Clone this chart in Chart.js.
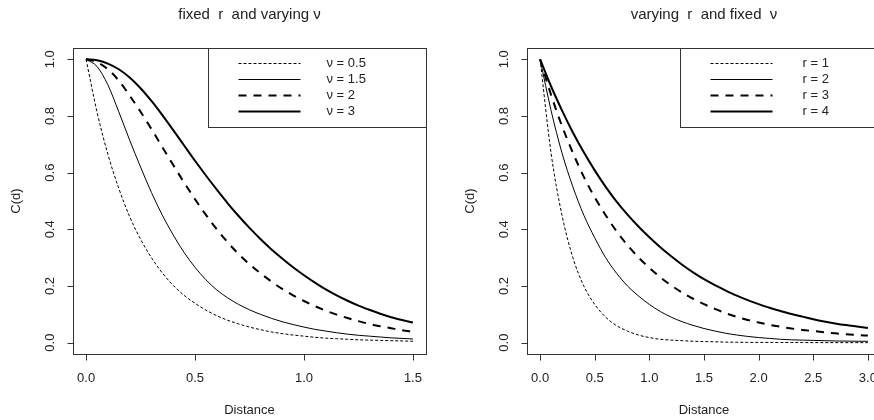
<!DOCTYPE html>
<html>
<head>
<meta charset="utf-8">
<script src="https://cdn.jsdelivr.net/npm/chart.js@4"></script>
<style>
  html, body { margin: 0; padding: 0; background: #fff; width: 874px; height: 420px; overflow: hidden; }
  #wrapL { position: absolute; left: 0; top: 0; width: 437px; height: 420px; }
  #wrapR { position: absolute; left: 437px; top: 0; width: 437px; height: 420px; overflow: hidden; }
</style>
</head>
<body>
<div id="wrapL"><canvas id="left" width="437" height="420"></canvas></div>
<div id="wrapR"><canvas id="right" width="450" height="420"></canvas></div>
<script>
// left panel: fixed r, varying nu
const distLeft = [0, 0.05, 0.1, 0.15, 0.2, 0.25, 0.3, 0.35, 0.4, 0.45, 0.5, 0.55, 0.6, 0.65, 0.7, 0.75,
  0.8, 0.85, 0.9, 0.95, 1.0, 1.05, 1.1, 1.15, 1.2, 1.25, 1.3, 1.35, 1.4, 1.45, 1.5];
const nu05 = [1.000, 0.815, 0.665, 0.545, 0.445, 0.365, 0.300, 0.246, 0.202, 0.167, 0.139, 0.115, 0.095, 0.079, 0.066, 0.055,
  0.046, 0.038, 0.032, 0.027, 0.023, 0.019, 0.016, 0.014, 0.012, 0.010, 0.009, 0.008, 0.007, 0.006, 0.005];
const nu15 = [1.000, 0.975, 0.910, 0.815, 0.715, 0.620, 0.530, 0.450, 0.380, 0.318, 0.266, 0.222, 0.186, 0.158, 0.135, 0.116,
  0.100, 0.086, 0.074, 0.064, 0.055, 0.047, 0.041, 0.035, 0.030, 0.026, 0.023, 0.020, 0.017, 0.015, 0.013];
const nu2 = [1.000, 0.990, 0.965, 0.925, 0.872, 0.815, 0.754, 0.690, 0.627, 0.565, 0.506, 0.451, 0.400, 0.354, 0.313, 0.277,
  0.245, 0.216, 0.190, 0.167, 0.147, 0.129, 0.113, 0.099, 0.087, 0.076, 0.066, 0.058, 0.051, 0.044, 0.038];
const nu3 = [1.000, 0.997, 0.985, 0.965, 0.936, 0.898, 0.853, 0.803, 0.750, 0.696, 0.642, 0.590, 0.540, 0.492, 0.447, 0.405,
  0.366, 0.330, 0.297, 0.266, 0.238, 0.212, 0.188, 0.167, 0.148, 0.131, 0.116, 0.102, 0.090, 0.080, 0.071];

// right panel: varying r, fixed nu
const distRight = [0, 0.1, 0.2, 0.3, 0.4, 0.5, 0.6, 0.7, 0.8, 0.9, 1.0, 1.1, 1.2, 1.3, 1.4, 1.5,
  1.6, 1.7, 1.8, 1.9, 2.0, 2.1, 2.2, 2.3, 2.4, 2.5, 2.6, 2.7, 2.8, 2.9, 3.0];
const r1 = [1.000, 0.670, 0.450, 0.300, 0.200, 0.135, 0.090, 0.060, 0.041, 0.027, 0.018, 0.012, 0.009, 0.007, 0.005, 0.004,
  0.003, 0.002, 0.0015, 0.001, 0.001, 0.0008, 0.0006, 0.0005, 0.0004, 0.0003, 0.0002, 0.0002, 0.0001, 0.0001, 0.0001];
const r2 = [1.000, 0.820, 0.670, 0.550, 0.450, 0.370, 0.300, 0.245, 0.200, 0.165, 0.135, 0.110, 0.090, 0.074, 0.061, 0.050,
  0.041, 0.033, 0.027, 0.022, 0.018, 0.015, 0.012, 0.010, 0.009, 0.008, 0.007, 0.006, 0.0055, 0.005, 0.005];
const r3 = [1.000, 0.875, 0.765, 0.670, 0.585, 0.513, 0.450, 0.393, 0.344, 0.301, 0.264, 0.231, 0.202, 0.177, 0.155, 0.136,
  0.119, 0.104, 0.091, 0.080, 0.071, 0.063, 0.056, 0.050, 0.045, 0.041, 0.037, 0.033, 0.030, 0.027, 0.025];
const r4 = [1.000, 0.905, 0.820, 0.742, 0.672, 0.608, 0.550, 0.498, 0.452, 0.410, 0.372, 0.337, 0.305, 0.275, 0.248, 0.224,
  0.203, 0.184, 0.166, 0.150, 0.136, 0.123, 0.112, 0.101, 0.092, 0.083, 0.075, 0.068, 0.062, 0.057, 0.052];

const xTicksLeft = [0, 0.5, 1.0, 1.5];
const xTicksRight = [0, 0.5, 1.0, 1.5, 2.0, 2.5, 3.0];
const yTicks = [0, 0.2, 0.4, 0.6, 0.8, 1.0];
const labelsLeft = ['ν = 0.5', 'ν = 1.5', 'ν = 2', 'ν = 3'];
const labelsRight = ['r = 1', 'r = 2', 'r = 3', 'r = 4'];

const FONT = '"Liberation Sans", Arial, sans-serif';
// thin dashed, thin solid, thick dashed, thick solid
const lineStyles = [
  { w: 1, dash: [3, 2] },
  { w: 1, dash: [] },
  { w: 2, dash: [8, 7] },
  { w: 2, dash: [] }
];

function rPlot(cfg) {
  return {
    id: 'rPlot',
    afterDraw(chart) {
      const ctx = chart.ctx, a = chart.chartArea;
      const xs = chart.scales.x, ys = chart.scales.y;
      const L = Math.round(a.left) + 0.5, T = Math.round(a.top) + 0.5;
      const R = Math.round(a.right) + 0.5, B = Math.round(a.bottom) + 0.5;
      ctx.save();
      ctx.strokeStyle = '#333';
      ctx.lineWidth = 1;
      ctx.setLineDash([]);

      // legend box
      const lx = Math.round(a.right - cfg.legendW) + 0.5;
      ctx.fillStyle = '#fff';
      ctx.fillRect(lx, T, R - lx, 79);
      ctx.strokeRect(lx, T, R - lx, 79);
      ctx.fillStyle = '#222';
      ctx.font = '13px ' + FONT;
      ctx.textAlign = 'left';
      ctx.textBaseline = 'middle';
      cfg.labels.forEach((lab, i) => {
        const yy = Math.round(a.top + 15 + 16 * i) + 0.5;
        ctx.strokeStyle = '#000';
        ctx.lineWidth = lineStyles[i].w;
        ctx.setLineDash(lineStyles[i].dash);
        ctx.beginPath();
        ctx.moveTo(lx + 30, yy);
        ctx.lineTo(lx + 92, yy);
        ctx.stroke();
        ctx.fillText(lab, lx + cfg.textOff, yy);
      });
      ctx.setLineDash([]);
      ctx.lineWidth = 1;
      ctx.strokeStyle = '#333';

      // plot box
      ctx.strokeRect(L, T, R - L, B - T);

      // x axis
      ctx.beginPath();
      const x0 = Math.round(xs.getPixelForValue(cfg.xTicks[0])) + 0.5;
      const x1 = Math.round(xs.getPixelForValue(cfg.xTicks[cfg.xTicks.length - 1])) + 0.5;
      ctx.moveTo(x0, B); ctx.lineTo(x1, B);
      cfg.xTicks.forEach(t => {
        const px = Math.round(xs.getPixelForValue(t)) + 0.5;
        ctx.moveTo(px, B); ctx.lineTo(px, B + 6);
      });
      // y axis
      const y0 = Math.round(ys.getPixelForValue(0)) + 0.5;
      const y1 = Math.round(ys.getPixelForValue(1)) + 0.5;
      ctx.moveTo(L, y0); ctx.lineTo(L, y1);
      yTicks.forEach(t => {
        const py = Math.round(ys.getPixelForValue(t)) + 0.5;
        ctx.moveTo(L - 6, py); ctx.lineTo(L, py);
      });
      ctx.stroke();

      ctx.fillStyle = '#222';
      ctx.font = '13px ' + FONT;
      ctx.textAlign = 'center';
      ctx.textBaseline = 'middle';
      cfg.xTicks.forEach(t => {
        ctx.fillText(t.toFixed(1), xs.getPixelForValue(t), 378);
      });
      yTicks.forEach(t => {
        ctx.save();
        ctx.translate(a.left - 23, ys.getPixelForValue(t));
        ctx.rotate(-Math.PI / 2);
        ctx.fillText(t.toFixed(1), 0, 0);
        ctx.restore();
      });
      const cx = (a.left + a.right) / 2;
      ctx.fillText('Distance', cx, 410);
      ctx.save();
      ctx.translate(a.left - 57, (a.top + a.bottom) / 2);
      ctx.rotate(-Math.PI / 2);
      ctx.fillText('C(d)', 0, 0);
      ctx.restore();

      ctx.font = '15px ' + FONT;
      ctx.fillText(cfg.title, cx, 15);
      ctx.restore();
    }
  };
}

function makeChart(id, cfg) {
  return new Chart(document.getElementById(id), {
    type: 'line',
    data: {
      datasets: cfg.series.map((s, i) => ({
        label: cfg.labels[i],
        data: cfg.dist.map((d, j) => ({ x: d, y: s[j] })),
        borderColor: '#000',
        borderWidth: lineStyles[i].w,
        borderDash: lineStyles[i].dash,
        pointRadius: 0,
        fill: false,
        cubicInterpolationMode: 'monotone'
      }))
    },
    options: {
      responsive: false,
      animation: false,
      events: [],
      layout: { padding: cfg.padding },
      scales: {
        x: { type: 'linear', min: cfg.xMin, max: cfg.xMax, display: false },
        y: { type: 'linear', min: -0.04, max: 1.04, display: false }
      },
      plugins: {
        legend: { display: false },
        tooltip: { enabled: false },
        title: { display: false }
      }
    },
    plugins: [rPlot(cfg)]
  });
}

makeChart('left', {
  dist: distLeft,
  series: [nu05, nu15, nu2, nu3],
  labels: labelsLeft,
  xTicks: xTicksLeft,
  xMin: -0.06, xMax: 1.56,
  padding: { left: 73, right: 11, top: 48, bottom: 66 },
  legendW: 218, textOff: 118,
  title: 'fixed  r  and varying ν'
});

makeChart('right', {
  dist: distRight,
  series: [r1, r2, r3, r4],
  labels: labelsRight,
  xTicks: xTicksRight,
  xMin: -0.12, xMax: 3.12,
  padding: { left: 90, right: 6, top: 48, bottom: 66 },
  legendW: 201, textOff: 122,
  title: 'varying  r  and fixed  ν'
});
</script>
</body>
</html>
